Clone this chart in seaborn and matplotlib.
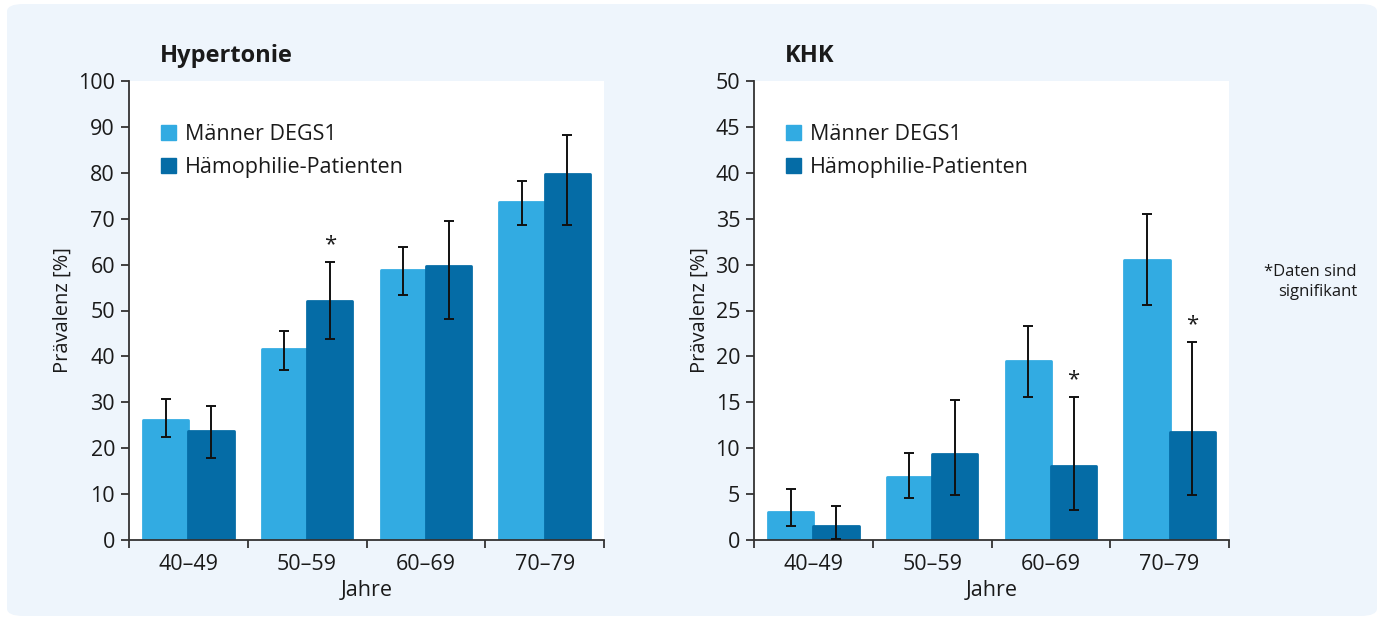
import matplotlib
matplotlib.use("Agg")
import matplotlib.pyplot as plt
from matplotlib.patches import FancyBboxPatch, Patch
import seaborn as sns
import pandas as pd
import numpy as np

# ---- data ----
age_groups = ["40–49", "50–59", "60–69", "70–79"]
series = ["Männer DEGS1", "Hämophilie-Patienten"]

hyp_degs = [26.1, 41.7, 58.8, 73.6]
hyp_degs_lo = [22.4, 37.1, 53.4, 68.7]
hyp_degs_hi = [30.8, 45.6, 63.8, 78.2]
hyp_haem = [23.7, 52.0, 59.6, 79.7]
hyp_haem_lo = [17.8, 43.7, 48.2, 68.7]
hyp_haem_hi = [29.2, 60.6, 69.5, 88.2]
hyp_sig = [False, True, False, False]

khk_degs = [3.1, 6.9, 19.5, 30.5]
khk_degs_lo = [1.5, 4.6, 15.6, 25.6]
khk_degs_hi = [5.6, 9.5, 23.3, 35.5]
khk_haem = [1.5, 9.4, 8.1, 11.8]
khk_haem_lo = [0.1, 4.9, 3.3, 4.9]
khk_haem_hi = [3.7, 15.2, 15.6, 21.6]
khk_sig = [False, False, True, True]

LIGHT = "#32ABE2"
DARK = "#056CA6"
BG = "#EEF5FC"
TXT = "#1a1a1a"
FONT = ["Open Sans", "DejaVu Sans"]
FS = 15.5

sns.set_theme(style="white")
plt.rcParams["font.family"] = FONT

fig = plt.figure(figsize=(13.83, 6.24), dpi=100)
fig.patch.set_facecolor("white")
bgpatch = FancyBboxPatch((7 / 1383, 8 / 624), (1377 - 7) / 1383, (620 - 8) / 624,
                         boxstyle="round,pad=0,rounding_size=0.012",
                         transform=fig.transFigure, facecolor=BG, edgecolor="none", zorder=-5)
fig.patches.append(bgpatch)

W = 475 / 1383
H = 459 / 624
B = (624 - 540) / 624
ax1 = fig.add_axes([129 / 1383, B, W, H])
ax2 = fig.add_axes([754 / 1383, B, W, H])


def panel(ax, title, degs, dlo, dhi, haem, hlo, hhi, sig, ymax, ystep, title_x):
    df = pd.DataFrame({
        "Jahre": age_groups * 2,
        "Wert": list(degs) + list(haem),
        "Gruppe": [series[0]] * 4 + [series[1]] * 4,
    })
    sns.barplot(data=df, x="Jahre", y="Wert", hue="Gruppe", order=age_groups,
                hue_order=series, palette=[LIGHT, DARK], width=0.764,
                errorbar=None, ax=ax, legend=False, saturation=1)
    lows = list(dlo) + list(hlo)
    highs = list(dhi) + list(hhi)
    vals = list(degs) + list(haem)
    bars = ax.patches[:8]
    for i, p in enumerate(bars):
        p.set_edgecolor(p.get_facecolor())
        p.set_linewidth(2.0)
        p.set_joinstyle("round")
        xc = p.get_x() + p.get_width() / 2
        ax.errorbar(xc, vals[i], yerr=[[vals[i] - lows[i]], [highs[i] - vals[i]]],
                    fmt="none", ecolor="#111111", elinewidth=1.4, capsize=3.5,
                    capthick=1.4, zorder=5)
    for j, s in enumerate(sig):
        if s:
            p = bars[4 + j]
            xc = p.get_x() + p.get_width() / 2
            ax.annotate("*", (xc, highs[4 + j]), xytext=(0, 5), textcoords="offset points",
                        ha="center", va="bottom", fontsize=16, color=TXT)

    ax.set_facecolor("white")
    ax.set_xlim(-0.5, 3.5)
    ax.set_ylim(0, ymax)
    ax.set_yticks(np.arange(0, ymax + 0.01, ystep))
    ax.set_yticklabels([f"{int(v)}" for v in np.arange(0, ymax + 0.01, ystep)])
    ax.set_xticks(range(4))
    ax.set_xticklabels(age_groups)
    ax.set_xticks([-0.5, 0.5, 1.5, 2.5, 3.5], minor=True)
    ax.tick_params(axis="x", which="major", length=0, pad=10, labelsize=FS, colors=TXT)
    ax.tick_params(axis="x", which="minor", length=6, width=1.3, color="#333333", direction="out", bottom=True)
    ax.tick_params(axis="y", which="major", length=6, width=1.3, color="#333333", direction="out",
                   left=True, pad=4, labelsize=FS, labelcolor=TXT)
    for sp in ["top", "right"]:
        ax.spines[sp].set_visible(False)
    for sp in ["left", "bottom"]:
        ax.spines[sp].set_color("#333333")
        ax.spines[sp].set_linewidth(1.3)
    ax.set_xlabel("Jahre", fontsize=FS, color=TXT, labelpad=4)
    ax.set_ylabel("Prävalenz [%]", fontsize=14.5, color=TXT, labelpad=4)
    fig.text(title_x / 1383, 1 - 56 / 624, title, fontsize=17, fontweight="bold",
             color=TXT, ha="left", va="center")
    handles = [Patch(facecolor=LIGHT, edgecolor=LIGHT, joinstyle="round", linewidth=1),
               Patch(facecolor=DARK, edgecolor=DARK, joinstyle="round", linewidth=1)]
    ax.legend(handles, series, loc="upper left", bbox_to_anchor=(0.05, 0.925),
              frameon=False, fontsize=FS, handlelength=0.7, handleheight=0.7,
              handletextpad=0.4, labelspacing=0.55, borderaxespad=0, labelcolor=TXT)


panel(ax1, "Hypertonie", hyp_degs, hyp_degs_lo, hyp_degs_hi, hyp_haem, hyp_haem_lo,
      hyp_haem_hi, hyp_sig, 100, 10, 160)
panel(ax2, "KHK", khk_degs, khk_degs_lo, khk_degs_hi, khk_haem, khk_haem_lo,
      khk_haem_hi, khk_sig, 50, 5, 785)

fig.text(1357 / 1383, 1 - 282 / 624, "*Daten sind\nsignifikant", fontsize=12,
         color=TXT, ha="right", va="center", multialignment="right", linespacing=1.35)

fig.savefig("out.png", dpi=100, facecolor=fig.get_facecolor())
